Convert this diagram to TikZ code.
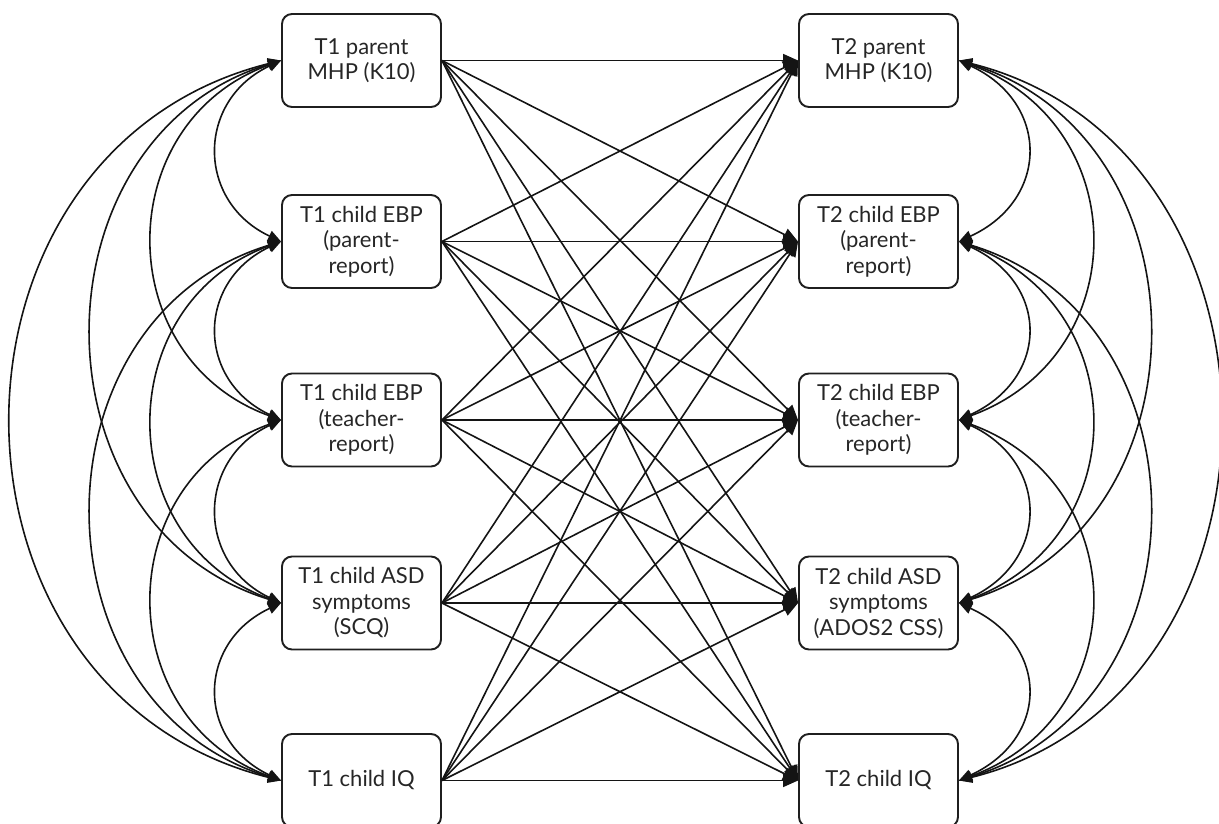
\documentclass[tikz,border=0pt]{standalone}
\usepackage{fontspec}
\setmainfont{Lato}
\usetikzlibrary{arrows.meta}
\begin{document}
\begin{tikzpicture}[x=1pt,y=-1pt,
  var/.style={draw=black!88, line width=1.9pt, rounded corners=10pt,
    minimum width=159pt, minimum height=93pt, inner sep=0pt, align=center,
    font=\fontsize{22}{25.5}\selectfont, text=black!85},
  lag/.style={line width=1.6pt, draw=black!92, -{Triangle[length=15pt,width=13pt]}},
  cov/.style={line width=1.6pt, draw=black!92,
    {Triangle[length=13pt,width=11pt]}-{Triangle[length=13pt,width=11pt]}}]
\useasboundingbox (0,0) rectangle (1219,823);

% time 1 measures
\node[var] (a1) at (361.5,60.5)  {T1 parent\\MHP (K10)};
\node[var] (a2) at (361.5,241.5) {T1 child EBP\\(parent-\\report)};
\node[var] (a3) at (361.5,420)   {T1 child EBP\\(teacher-\\report)};
\node[var] (a4) at (361.5,603)   {T1 child ASD\\symptoms\\(SCQ)};
\node[var] (a5) at (361.5,780.5) {T1 child IQ};

% time 2 measures
\node[var] (b1) at (878.5,60.5)  {T2 parent\\MHP (K10)};
\node[var] (b2) at (878.5,241.5) {T2 child EBP\\(parent-\\report)};
\node[var] (b3) at (878.5,420)   {T2 child EBP\\(teacher-\\report)};
\node[var] (b4) at (878.5,603)   {T2 child ASD\\symptoms\\(ADOS2 CSS)};
\node[var] (b5) at (878.5,780.5) {T2 child IQ};

% cross-lagged and autoregressive paths
\foreach \i in {1,...,5}
  \foreach \j in {1,...,5}
    \draw[lag] (a\i.east) -- (b\j.west);

% covariances among time 1 measures
\foreach \i/\j/\A/\B in {1/2/85/40, 2/3/85/40, 3/4/85/40, 4/5/85/40,
                         1/3/171/62, 2/4/171/62, 3/5/171/62,
                         1/4/252/77, 2/5/252/77, 1/5/359/90}
  \draw[cov] (a\i.west) .. controls +(-\A,\B) and +(-\A,-\B) .. (a\j.west);

% covariances among time 2 measures
\foreach \i/\j/\A/\B in {1/2/91/42, 2/3/91/42, 3/4/91/42, 4/5/91/42,
                         1/3/176/64, 2/4/176/64, 3/5/176/64,
                         1/4/253/77, 2/5/253/77, 1/5/347/87}
  \draw[cov] (b\i.east) .. controls +(\A,\B) and +(\A,-\B) .. (b\j.east);
\end{tikzpicture}
\end{document}
